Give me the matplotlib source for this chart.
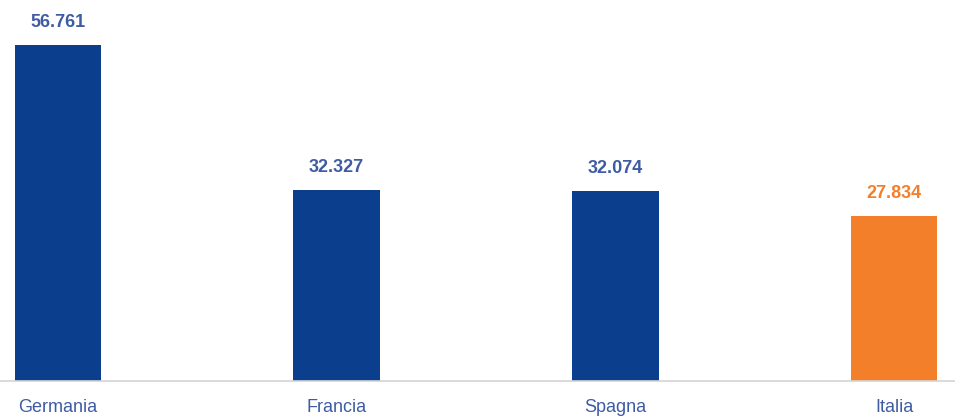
import matplotlib
matplotlib.use("Agg")
import matplotlib.pyplot as plt
from matplotlib import font_manager

categories = ["Germania", "Francia", "Spagna", "Italia"]
values = [56.761, 32.327, 32.074, 27.834]
value_labels = ["56.761", "32.327", "32.074", "27.834"]

blue = "#0b3f8e"
orange = "#f47f2a"
text_blue = "#3f5ca3"
colors = [blue, blue, blue, orange]
label_colors = [text_blue, text_blue, text_blue, orange]

names = {f.name for f in font_manager.fontManager.ttflist}
fam = ["Liberation Sans Narrow", "Liberation Sans", "DejaVu Sans"]
fam = [f for f in fam if f in names] or ["DejaVu Sans"]

fig = plt.figure(figsize=(9.55, 4.17), dpi=100)
ax = fig.add_axes([0, 36 / 417, 1, 381 / 417])
x = list(range(len(categories)))
ax.bar(x, values, width=0.312, color=colors, zorder=2)
unit = 278.67
ax.set_xlim(-58 / unit, (955 - 58) / unit)
ax.set_ylim(0, 56.761 * 381 / 336)

for xi, v, lab, c in zip(x, values, value_labels, label_colors):
    ax.annotate(lab, (xi, v), xytext=(0, 10), textcoords="offset points",
                ha="center", va="bottom", fontsize=13, fontweight="bold",
                color=c, family=fam)

for s in ["top", "right", "left"]:
    ax.spines[s].set_visible(False)
ax.spines["bottom"].set_color("#d4d4d4")
ax.spines["bottom"].set_linewidth(1.2)
ax.set_yticks([])
ax.set_xticks(x)
ax.set_xticklabels(categories, family=fam, fontsize=13, color=text_blue)
ax.tick_params(axis="x", length=0, pad=13)

fig.savefig("out.png", dpi=100)
